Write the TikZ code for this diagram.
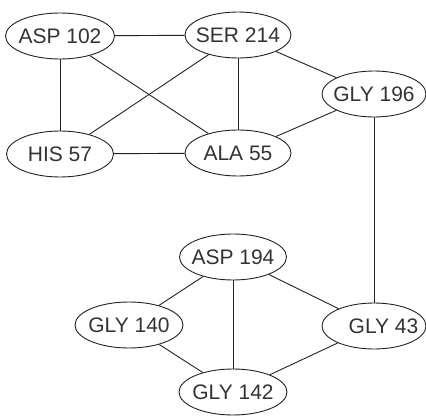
\documentclass[tikz,border=0pt]{standalone}
\usepackage{fontspec}
\setmainfont{Liberation Sans}
\usepackage{tikz}
\usetikzlibrary{shapes.geometric}
\definecolor{EdgeGray}{HTML}{222222}
\definecolor{LabelGray}{HTML}{333333}
\tikzset{
  residue/.style={ellipse, draw=EdgeGray, line width=0.9pt, inner sep=0pt, minimum width=106pt, minimum height=46pt, text=LabelGray, font=\fontsize{21}{25}\selectfont},
  contact/.style={draw=EdgeGray, line width=0.9pt}
}
% label sits centred in the ellipse without widening it
\newcommand{\reslabel}[1]{\makebox[0pt]{#1}}

\begin{document}
\begin{tikzpicture}[x=1pt, y=1pt]
  \useasboundingbox (0,0) rectangle (426,416);
  % upper cluster
  \node[residue, minimum width=109pt] (asp102) at (60,380) {\reslabel{ASP 102}};
  \node[residue] (ser214) at (238,381) {\reslabel{SER 214}};
  \node[residue, minimum width=104pt] (gly196) at (374,322) {\reslabel{GLY 196}};
  \node[residue, minimum width=107pt] (his57) at (60,262) {\reslabel{HIS 57}};
  \node[residue] (ala55) at (238,263) {\reslabel{ALA 55}};
  % lower cluster
  \node[residue, minimum width=107pt] (asp194) at (233,159) {\reslabel{ASP 194}};
  \node[residue, minimum width=108pt] (gly140) at (129,91) {\reslabel{GLY 140}};
  \node[residue, minimum width=104pt] (gly43) at (374,90) {\reslabel{\hspace*{19pt}GLY 43}};
  \node[residue, minimum width=108pt] (gly142) at (233,24) {\reslabel{GLY 142}};

  \draw[contact] (asp102) -- (ser214);
  \draw[contact] (asp102) -- (his57);
  \draw[contact] (asp102) -- (ala55);
  \draw[contact] (ser214) -- (his57);
  \draw[contact] (ser214) -- (ala55);
  \draw[contact] (ser214) -- (gly196);
  \draw[contact] (his57) -- (ala55);
  \draw[contact] (ala55) -- (gly196);
  \draw[contact] (gly196) -- (gly43);
  \draw[contact] (asp194) -- (gly140);
  \draw[contact] (asp194) -- (gly142);
  \draw[contact] (asp194) -- (gly43);
  \draw[contact] (gly140) -- (gly142);
  \draw[contact] (gly43) -- (gly142);
\end{tikzpicture}
\end{document}
